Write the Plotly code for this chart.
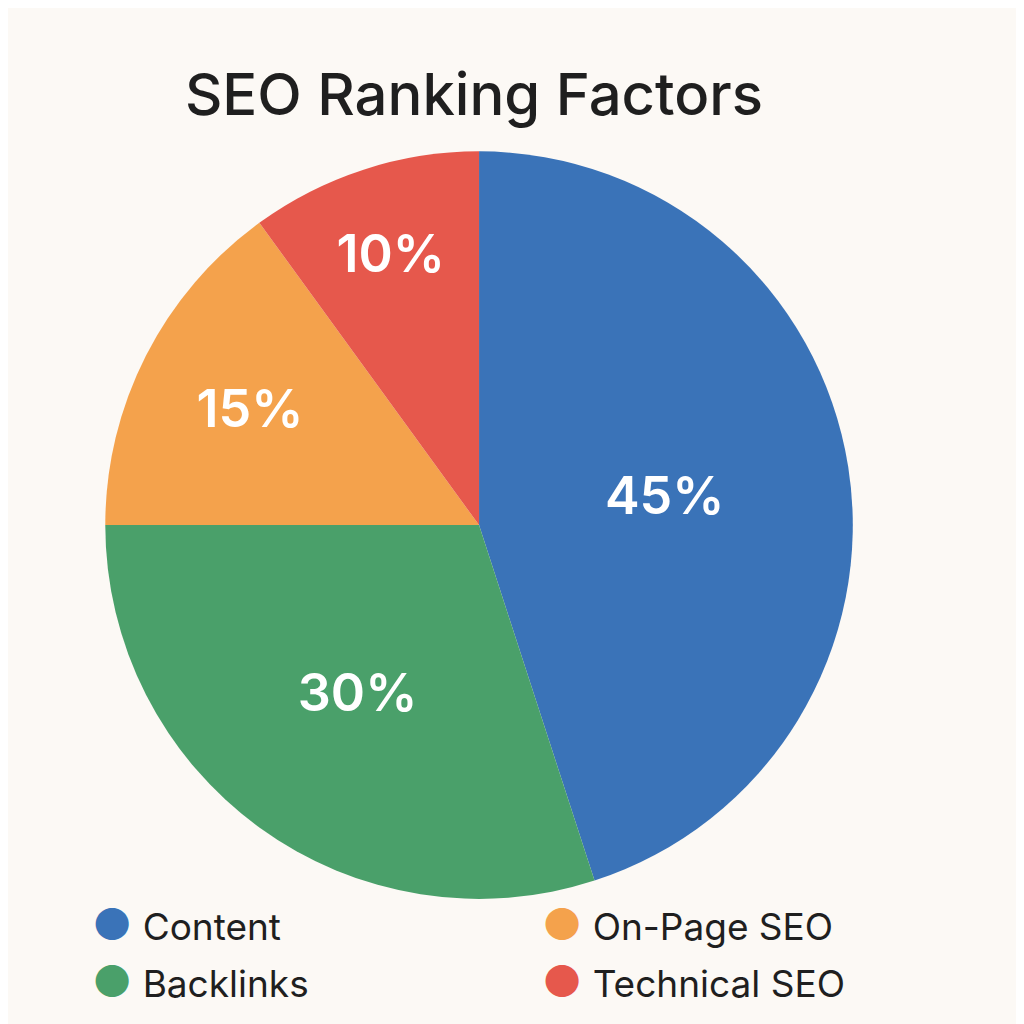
import plotly.graph_objects as go

labels = ["Content", "Backlinks", "On-Page SEO", "Technical SEO"]
values = [45, 30, 15, 10]
colors = ["#3a73b8", "#4aa06a", "#f4a24c", "#e6584c"]
legend_order = ["Content", "On-Page SEO", "Backlinks", "Technical SEO"]

fig = go.Figure()
fig.add_trace(go.Pie(
    labels=labels, values=values, sort=False, direction="clockwise", rotation=0,
    marker=dict(colors=colors), texttemplate="%{value}%",
    textposition="inside", insidetextorientation="horizontal",
    textfont=dict(color="white", size=52, family="Inter", weight=600),
    showlegend=False, domain=dict(x=[0.08, 0.84], y=[0.13, 0.86]),
))
cmap = dict(zip(labels, colors))
xs = [0.08, 0.52]
ys = [0.105, 0.05]
for i, name in enumerate(legend_order):
    fig.add_annotation(
        xref="paper", yref="paper", x=xs[i % 2], y=ys[i // 2], xanchor="left", yanchor="middle",
        showarrow=False,
        text=f"<span style='color:{cmap[name]};font-size:44px'>●</span> {name}",
        font=dict(size=37, family="Inter", color="#1f1f1f"),
    )
fig.update_layout(
    width=1024, height=1024, paper_bgcolor="#fcf9f5",
    margin=dict(l=0, r=0, t=0, b=0),
    title=dict(text="SEO Ranking Factors", x=0.455, y=0.915, xanchor="center", yanchor="middle",
               font=dict(size=58, family="Inter", color="#1f1f1f", weight=500)),
)
fig.write_html("out.html")
